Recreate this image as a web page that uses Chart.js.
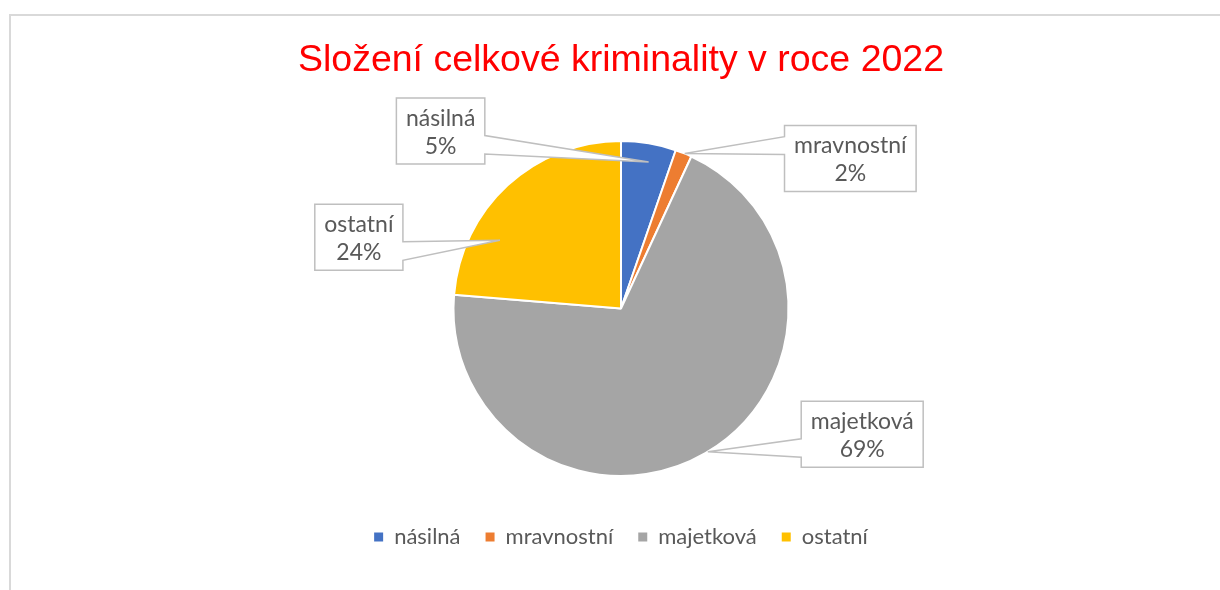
<!DOCTYPE html>
<html>
<head>
<meta charset="utf-8">
<script src="https://cdn.jsdelivr.net/npm/chart.js@4.4.1/dist/chart.umd.min.js"></script>
<style>
  html, body { margin: 0; padding: 0; background: #ffffff; }
  #wrap { width: 1220px; height: 590px; position: relative; }
</style>
</head>
<body>
<div id="wrap"><canvas id="c" width="1220" height="590"></canvas></div>
<script>
// ---- data ----
const chartTitle = 'Složení celkové kriminality v roce 2022';
const categories = ['násilná', 'mravnostní', 'majetková', 'ostatní'];
const shares = [5.3, 1.6, 69.4, 23.7];
const sliceColors = ['#4472C4', '#ED7D31', '#A5A5A5', '#FFC000'];

// ---- callout placement (in units of pie radius, relative to pie centre) ----
const calloutBox = [[-1.077, -1.06], [1.369, -0.896], [1.44, 0.75], [-1.565, -0.426]];
const calloutTip = [[0.56, 0.89], [0.57, 1.0], [0.496, 1.0], [0.29, 0.83]]; // [fraction of slice angle, fraction of radius]
const calloutWedge = [[0.57, 0.85], [0.17, 0.44], [0.57, 0.85], [0.57, 0.85]]; // wedge base, fraction of box height

const LABEL_FONT = '23px Lato';
const TEXT_COLOR = '#595959';

const framePlugin = {
  id: 'frame',
  beforeDraw(chart) {
    const ctx = chart.ctx;
    ctx.save();
    ctx.fillStyle = '#D9D9D9';
    ctx.fillRect(9, 14, chart.width - 9, 2);
    ctx.fillRect(9, 14, 2, chart.height - 14);
    ctx.restore();
  }
};

const calloutPlugin = {
  id: 'callouts',
  afterDatasetsDraw(chart) {
    const ctx = chart.ctx;
    const meta = chart.getDatasetMeta(0);
    const data = chart.data.datasets[0].data;
    const total = data.reduce((a, b) => a + b, 0);
    ctx.save();
    ctx.font = LABEL_FONT;
    meta.data.forEach((arc, i) => {
      const p = arc.getProps(['x', 'y', 'startAngle', 'endAngle', 'outerRadius'], true);
      const R = p.outerRadius;
      const ang = p.startAngle + calloutTip[i][0] * (p.endAngle - p.startAngle);
      const tx = p.x + Math.cos(ang) * R * calloutTip[i][1];
      const ty = p.y + Math.sin(ang) * R * calloutTip[i][1];
      const line1 = categories[i];
      const line2 = Math.round(data[i] / total * 100) + '%';
      const w = Math.max(ctx.measureText(line1).width, ctx.measureText(line2).width) + 19;
      const h = 66;
      const cx = p.x + calloutBox[i][0] * R;
      const cy = p.y + calloutBox[i][1] * R;
      const L = cx - w / 2, Rt = cx + w / 2, T = cy - h / 2, B = cy + h / 2;
      const y1 = T + calloutWedge[i][0] * h, y2 = T + calloutWedge[i][1] * h;
      ctx.beginPath();
      if (tx > cx) {
        ctx.moveTo(L, T); ctx.lineTo(Rt, T); ctx.lineTo(Rt, y1); ctx.lineTo(tx, ty);
        ctx.lineTo(Rt, y2); ctx.lineTo(Rt, B); ctx.lineTo(L, B); ctx.closePath();
      } else {
        ctx.moveTo(L, T); ctx.lineTo(Rt, T); ctx.lineTo(Rt, B); ctx.lineTo(L, B);
        ctx.lineTo(L, y2); ctx.lineTo(tx, ty); ctx.lineTo(L, y1); ctx.closePath();
      }
      ctx.fillStyle = '#ffffff';
      ctx.fill();
      ctx.lineWidth = 1.5;
      ctx.strokeStyle = '#BFBFBF';
      ctx.lineJoin = 'miter';
      ctx.stroke();
      ctx.fillStyle = TEXT_COLOR;
      ctx.textAlign = 'center';
      ctx.textBaseline = 'alphabetic';
      ctx.fillText(line1, cx, cy - 5);
      ctx.fillText(line2, cx, cy + 23);
    });
    ctx.restore();
  }
};

new Chart(document.getElementById('c'), {
  type: 'pie',
  data: {
    labels: categories,
    datasets: [{
      data: shares,
      backgroundColor: sliceColors,
      borderColor: '#ffffff',
      borderWidth: 2
    }]
  },
  options: {
    responsive: false,
    animation: false,
    events: [],
    layout: { padding: { top: 0, bottom: 32, left: 22, right: 0 } },
    plugins: {
      title: {
        display: true,
        text: chartTitle,
        color: '#FF0000',
        font: { family: '"Liberation Sans", Arial, sans-serif', size: 37.5, weight: 'normal', lineHeight: 1.2 },
        padding: { top: 38, bottom: 57 }
      },
      legend: {
        display: true,
        position: 'bottom',
        title: { display: true, text: '', font: { size: 10, lineHeight: 1 }, padding: { top: 14, bottom: 0 } },
        labels: {
          color: TEXT_COLOR,
          font: { family: 'Lato', size: 22 },
          boxWidth: 9,
          boxHeight: 9,
          padding: 25,
          generateLabels(chart) {
            const ds = chart.data.datasets[0];
            return chart.data.labels.map((l, i) => ({
              text: l,
              fillStyle: ds.backgroundColor[i],
              strokeStyle: 'rgba(0,0,0,0)',
              lineWidth: 0,
              fontColor: TEXT_COLOR,
              hidden: false,
              index: i
            }));
          }
        }
      },
      tooltip: { enabled: false }
    }
  },
  plugins: [framePlugin, calloutPlugin]
});
</script>
</body>
</html>
